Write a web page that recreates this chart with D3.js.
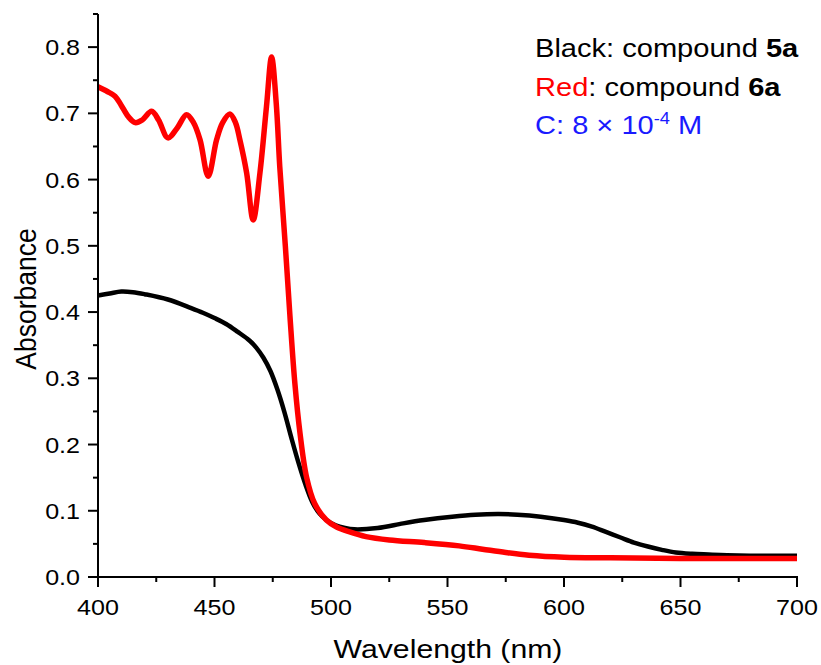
<!DOCTYPE html>
<html><head><meta charset="utf-8">
<script src="https://cdn.jsdelivr.net/npm/d3@7"></script>
<style>body{margin:0;background:#fff}svg{display:block}text{font-family:"Liberation Sans",Arial,sans-serif}</style>
</head><body>
<svg id="c" width="821" height="665"></svg>
<script>
// Data (wavelength nm, absorbance)
const blackWl = [400,405,410,415,420,430,440,445,450,455,460,465,468,471,474,477,480,483,486,489,492,495,498,502,506,510,520,531,540,552,562,572,580,590,600,606,612,618,624,630,636,642,648,655,662,670,685,700];
const blackAbs = [0.425,0.428,0.431,0.430,0.427,0.419,0.406,0.399,0.391,0.382,0.370,0.357,0.346,0.331,0.311,0.283,0.249,0.210,0.173,0.140,0.113,0.096,0.086,0.078,0.074,0.072,0.074,0.081,0.086,0.091,0.094,0.095,0.094,0.091,0.086,0.082,0.076,0.068,0.060,0.052,0.046,0.041,0.037,0.035,0.034,0.033,0.032,0.032];
const redWl = [400,404,407.3,410,413,416,419,423,426,430,434,438,441,443.8,447.3,450.9,453.5,456.6,459,460.9,463.8,466.6,469.5,472.3,474.5,476.5,478,480.4,482.4,484.5,486.7,489.5,493,498,502.4,508,515,525,540,555,565,575,585,600,620,650,700];
const redAbs = [0.740,0.733,0.726,0.712,0.695,0.686,0.690,0.703,0.690,0.663,0.678,0.698,0.686,0.660,0.605,0.660,0.686,0.699,0.686,0.660,0.610,0.539,0.610,0.710,0.785,0.715,0.620,0.500,0.393,0.292,0.217,0.151,0.111,0.086,0.0755,0.068,0.061,0.056,0.052,0.047,0.042,0.037,0.033,0.030,0.029,0.028,0.028];
const xTicks = [400,450,500,550,600,650,700];
const xMinor = [425,475,525,575,625,675];
const yTicks = [0.0,0.1,0.2,0.3,0.4,0.5,0.6,0.7,0.8];
const yMinor = [0.05,0.15,0.25,0.35,0.45,0.55,0.65,0.75,0.85];

const SX = 1.14; // horizontal text stretch
const svg = d3.select("#c");
const x = d3.scaleLinear().domain([400,700]).range([98,797]);
const y = d3.scaleLinear().domain([0,0.85]).range([577,14]);

function stext(px, py, opts) {
  const g = svg.append("g").attr("transform", `translate(${px},${py}) scale(${SX},1)` + (opts.rotate ? ` rotate(${opts.rotate})` : ""));
  return g.append("text").attr("x",0).attr("y",0)
    .attr("font-size", opts.size).attr("text-anchor", opts.anchor || "start")
    .attr("fill", opts.fill || "#000");
}

const line = d3.line().x(d=>x(d[0])).y(d=>y(d[1])).curve(d3.curveCatmullRom.alpha(0.5));
svg.append("path").datum(blackWl.map((w,i)=>[w,blackAbs[i]]))
  .attr("d", line).attr("fill","none").attr("stroke","#000").attr("stroke-width",4.5).attr("stroke-linejoin","round");
svg.append("path").datum(redWl.map((w,i)=>[w,redAbs[i]]))
  .attr("d", line).attr("fill","none").attr("stroke","#ff0000").attr("stroke-width",5.5).attr("stroke-linejoin","round");

// axes
const ax = svg.append("g").attr("stroke","#000").attr("stroke-width",2);
ax.append("line").attr("x1",x(400)).attr("x2",x(700)+1).attr("y1",y(0)).attr("y2",y(0));
ax.append("line").attr("x1",x(400)).attr("x2",x(400)).attr("y1",y(0)+1).attr("y2",y(0.85));
xTicks.forEach(t=>ax.append("line").attr("x1",x(t)).attr("x2",x(t)).attr("y1",y(0)).attr("y2",y(0)+10));
xMinor.forEach(t=>ax.append("line").attr("x1",x(t)).attr("x2",x(t)).attr("y1",y(0)).attr("y2",y(0)+5));
yTicks.forEach(t=>ax.append("line").attr("x1",x(400)).attr("x2",x(400)-10).attr("y1",y(t)).attr("y2",y(t)));
yMinor.forEach(t=>ax.append("line").attr("x1",x(400)).attr("x2",x(400)-5).attr("y1",y(t)).attr("y2",y(t)));

xTicks.forEach(t=>stext(x(t), 615, {size:22, anchor:"middle"}).text(t));
yTicks.forEach(t=>stext(80, y(t)+8, {size:22, anchor:"end"}).text(t.toFixed(1)));

stext(448, 658, {size:26.5, anchor:"middle"}).text("Wavelength (nm)");
stext(36, 299, {size:26.5, anchor:"middle", rotate:-90}).text("Absorbance");

// annotation
let t1 = stext(535, 57, {size:25.5});
t1.append("tspan").text("Black: compound ");
t1.append("tspan").attr("font-weight","bold").text("5a");
let t2 = stext(535, 95.5, {size:25.5});
t2.append("tspan").attr("fill","#ff0000").text("Red");
t2.append("tspan").text(": compound ");
t2.append("tspan").attr("font-weight","bold").text("6a");
let t3 = stext(535, 134, {size:25.5, fill:"#1a1aff"});
t3.append("tspan").text("C: 8 × 10");
t3.append("tspan").attr("font-size",16).attr("dy",-10).text("-4");
t3.append("tspan").attr("dy",10).text(" M");
</script>
</body></html>
